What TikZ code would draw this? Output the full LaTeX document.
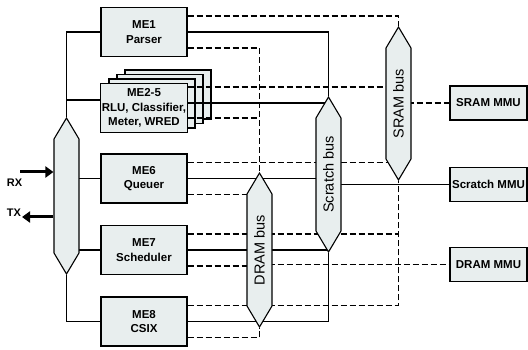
\documentclass[tikz,border=0pt]{standalone}
\usepackage{fontspec}
\setmainfont{Liberation Sans}
\usetikzlibrary{shapes.symbols,arrows.meta}
\definecolor{boxfill}{HTML}{E8EEEE}
\pgfdeclarelayer{back}
\pgfdeclarelayer{wires}
\pgfsetlayers{back,wires,main}
\tikzset{
  mebox/.style={draw, fill=boxfill, line width=1.1pt, minimum width=86pt, minimum height=49pt,
    inner sep=1pt, align=center, font=\bfseries\fontsize{11.5}{14.5}\selectfont},
  mmubox/.style={mebox, minimum width=77pt, minimum height=34pt},
  bus/.style={signal, signal to=east and west, signal pointer angle=61.5, rotate=90,
    draw, fill=boxfill, line width=1.1pt, minimum height=25pt, inner sep=1pt,
    font=\fontsize{14.5}{17}\selectfont},
  wire/.style={line width=1.9pt},
  dwire/.style={wire, dash pattern=on 6pt off 3pt},
  io/.style={line width=3pt, -{Triangle[length=8pt,width=11pt]}},
  iolabel/.style={font=\bfseries\fontsize{11}{13}\selectfont, inner sep=0pt}
}
\begin{document}
\begin{tikzpicture}[x=1pt, y=-1pt]
  \useasboundingbox (0,0) rectangle (528,350);

  % micro engines
  \begin{pgfonlayer}{back}
    \foreach \k in {3,2,1}
      \node[mebox] (me2back\k) at (144+8*\k, 108-4.5*\k) {};
  \end{pgfonlayer}
  \node[mebox] (me1) at (144,32) {ME1\\Parser};
  \node[mebox] (me2) at (144,108) {ME2-5\\RLU, Classifier,\\Meter, WRED};
  \node[mebox] (me6) at (144,178.5) {ME6\\Queuer};
  \node[mebox] (me7) at (144,250) {ME7\\Scheduler};
  \node[mebox] (me8) at (144,321.5) {ME8\\CSIX};

  % memory units
  \node[mmubox] (srmmu) at (488.5,103) {SRAM MMU};
  \node[mmubox] (scmmu) at (488.5,184.5) {Scratch MMU};
  \node[mmubox] (drmmu) at (488.5,264.5) {DRAM MMU};

  % buses
  \node[bus, minimum width=156pt] (lbus) at (66.5,196) {};
  \node[bus, minimum width=153pt] (sram) at (398.5,103.5) {SRAM bus};
  \node[bus, minimum width=155pt] (scratch) at (328.5,174.5) {Scratch bus};
  \node[bus, minimum width=154pt] (dram) at (259.5,250) {DRAM bus};

  \begin{pgfonlayer}{wires}
    % engines to the left bus
    \draw[wire] (lbus.east) |- (me1.west);
    \draw[wire] (lbus.east) |- ([yshift=8pt]me2.west);
    \draw[wire] (me6.west) -- (me6.west -| lbus.center);
    \draw[wire] (me7.west) -- (me7.west -| lbus.center);
    \draw[wire] (lbus.west) |- (me8.west);
    % SRAM
    \draw[dwire] ([yshift=16pt]me1.east) -| (sram.east);
    \draw[dwire] ([yshift=21pt]me2.east) -- ([yshift=21pt]me2.east -| sram.center);
    \draw[dwire] ([yshift=16pt]me6.east) -- ([yshift=16pt]me6.east -| sram.center);
    \draw[dwire] ([yshift=16pt]me7.east) -- ([yshift=16pt]me7.east -| sram.west);
    \draw[dwire] ([yshift=16pt]me8.east) -| (sram.west);
    \draw[dwire] (sram.center |- srmmu.west) -- (srmmu.west);
    % Scratch
    \draw[wire] (me1.east) -| (scratch.east);
    \draw[wire] ([yshift=5pt]me2.east) -- ([yshift=5pt]me2.east -| scratch.center);
    \draw[wire] (me6.east) -- (me6.east -| scratch.center);
    \draw[wire] (me7.east) -- (me7.east -| scratch.west);
    \draw[wire] (me8.east) -| (scratch.west);
    \draw[wire] (scratch.center |- scmmu.west) -- (scmmu.west);
    % DRAM
    \draw[dwire] ([yshift=-16pt]me1.east) -| (dram.east);
    \draw[dwire] ([yshift=-10pt]me2.east) -- ([yshift=-10pt]me2.east -| dram.east);
    \draw[dwire] ([yshift=-16pt]me6.east) -- ([yshift=-16pt]me6.east -| dram.center);
    \draw[dwire] ([yshift=-16pt]me7.east) -- ([yshift=-16pt]me7.east -| dram.center);
    \draw[dwire] ([yshift=-16pt]me8.east) -| (dram.west);
    \draw[dwire] (dram.center |- drmmu.west) -- (drmmu.west);
  \end{pgfonlayer}

  % receive and transmit
  \node[iolabel] (rx) at (14.5,182.5) {RX};
  \node[iolabel] (tx) at (14,212.5) {TX};
  \coordinate (rxin) at (20,172);
  \coordinate (txout) at (22,217);
  \draw[io] (rxin) -- (rxin -| lbus.north);
  \draw[io] (txout -| lbus.north) -- (txout);
\end{tikzpicture}
\end{document}
